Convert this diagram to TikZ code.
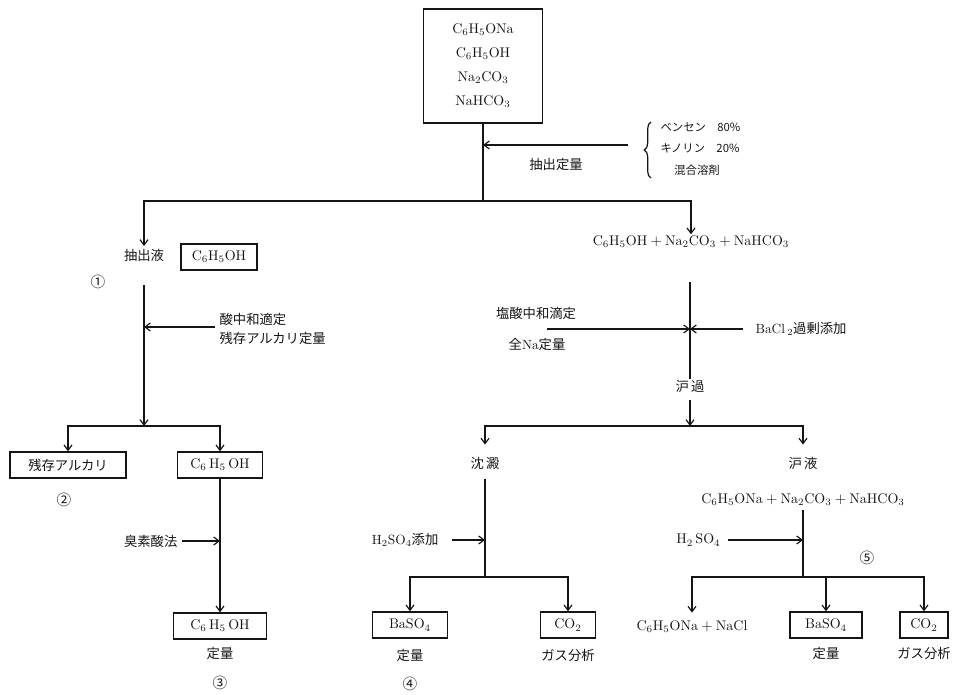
\documentclass[tikz,border=0pt]{standalone}
\usepackage{fontspec}
\usepackage{xcolor}
\usepackage{tikz}
\usetikzlibrary{arrows.meta,positioning,calc,decorations.pathreplacing}
\newfontfamily\jp{Noto Sans CJK JP}
\definecolor{sumi}{HTML}{151515}
\newcommand{\fml}[1]{\ensuremath{\mathrm{#1}}}

\begin{document}
\begin{tikzpicture}[x=0.75pt,y=-0.75pt,
    hako/.style={draw=sumi,line width=1.1pt,minimum height=19.5pt,inner sep=2pt,
                 font=\fontsize{10.5}{12}\selectfont\color{sumi}},
    moji/.style={font=\jp\fontsize{10}{14}\selectfont\color{sumi},inner sep=1pt},
    chico/.style={font=\jp\fontsize{8.5}{10}\selectfont\color{sumi},inner sep=1pt},
    kagaku/.style={font=\fontsize{10.5}{12}\selectfont\color{sumi},inner sep=1pt},
    maru/.style={font=\jp\fontsize{11}{12}\selectfont\color{sumi}},
    sen/.style={draw=sumi,line width=0.9pt},
    >={Straight Barb[length=4pt,width=6pt]}]
  \useasboundingbox (0,0) rectangle (954,695);

  % muestra de partida
  \node[hako,minimum width=89pt,minimum height=85.5pt,align=center,
        font=\fontsize{10.5}{18}\selectfont\color{sumi}] (mezcla) at (483,66)
    {\fml{C_6H_5ONa}\\ \fml{C_6H_5OH}\\ \fml{Na_2CO_3}\\ \fml{NaHCO_3}};
  \coordinate (junta1) at (483,145);
  \coordinate (solv) at (628,145);
  \coordinate (bif1) at (483,201);
  \draw[sen] (mezcla) -- (bif1);
  \draw[sen,->] (solv) -- (junta1);
  \node[moji] (extraer) at (556,164) {抽出定量};
  \draw[sen,decorate,decoration={brace,amplitude=5pt}] (651,178) -- (651,122);
  \node[chico,anchor=west] (benceno) at (659,127) {ベンセン\quad 80\%};
  \node[chico,anchor=west] (quinolina) at (659,148) {キノリン\quad 20\%};
  \node[chico] (solvente) at (697,170) {混合溶剤};

  % lado izquierdo: extracto
  \node[moji] (extracto) at (144,255) {抽出液};
  \node[hako,minimum width=57pt] (fenol1) at (219,257) {\fml{C_6H_5OH}};
  \node[maru] (n1) at (98,282) {①};
  \draw[sen,->] (bif1) -| ([yshift=1pt]extracto.north);
  \coordinate (l0) at (144,285);
  \coordinate (l1) at (144,327);
  \coordinate (acido) at (215,327);
  \coordinate (lbif) at (144,426);
  \draw[sen,->] (l0) -- (lbif);
  \draw[sen,->] (acido) -- (l1);
  \node[moji,anchor=west,align=left] (valora) at (218,329)
    {酸中和適定\\残存アルカリ定量};
  \node[hako,minimum width=87pt,font=\jp\fontsize{10}{12}\selectfont\color{sumi}]
    (alcali) at (68,465) {残存アルカリ};
  \node[hako,minimum width=64pt] (fenol2) at (220,465) {\fml{C_6\,H_5\,OH}};
  \draw[sen,->] (lbif) -| (alcali);
  \draw[sen,->] (lbif) -| (fenol2);
  \node[maru] (n2) at (64,500) {②};
  \coordinate (bromo) at (220,541);
  \coordinate (bromoa) at (182,541);
  \node[hako,minimum width=70pt] (fenol3) at (220,626) {\fml{C_6\,H_5\,OH}};
  \draw[sen,->] (fenol2) -- (fenol3);
  \draw[sen,->] (bromoa) -- (bromo);
  \node[moji,anchor=east] (bromato) at (179,541) {臭素酸法};
  \node[moji] (q3) at (220,653) {定量};
  \node[maru] (n3) at (220,683) {③};

  % lado derecho
  \node[kagaku] (mezcla2) at (691,242) {\fml{C_6H_5OH+Na_2CO_3+NaHCO_3}};
  \draw[sen,->] (bif1) -| (mezcla2.north);
  \coordinate (r0) at (690,282);
  \coordinate (r1) at (690,329);
  \coordinate (clh) at (547,329);
  \coordinate (bacl) at (743,329);
  \node[moji] (roka) at (690,387) {沪\,過};
  \draw[sen] (r0) -- (roka.north);
  \draw[sen,->] (clh) -- (r1);
  \draw[sen,->] (bacl) -- (r1);
  \node[moji] (clhtxt) at (536,313) {塩酸中和滴定};
  \node[moji] (natxt) at (537,344) {全\fml{Na}定量};
  \node[moji,anchor=west] (bacltxt) at (754,329) {\fml{BaCl\,_2}過剰添加};
  \coordinate (rbif) at (690,426);
  \draw[sen,->,shorten <=4pt] (roka) -- (rbif);
  \node[moji] (chinden) at (485,463) {沈\,澱};
  \node[moji] (roeki) at (803,463) {沪\,液};
  \draw[sen,->,shorten >=8pt] (rbif) -| (chinden.north);
  \draw[sen,->,shorten >=8pt] (rbif) -| (roeki.north);

  % precipitado
  \coordinate (m1) at (485,540);
  \coordinate (m0) at (452,540);
  \coordinate (mbif) at (485,577);
  \draw[sen,shorten <=6pt] (chinden) -- (mbif);
  \draw[sen,->] (m0) -- (m1);
  \node[moji,anchor=east] (h2a) at (440,540) {\fml{H_2SO_4}添加};
  \node[hako,minimum width=56pt] (baso4a) at (410,625) {\fml{BaSO_4}};
  \node[hako,minimum width=41pt] (co2a) at (568,625) {\fml{CO_2}};
  \draw[sen,->] (mbif) -| (baso4a);
  \draw[sen,->] (mbif) -| (co2a);
  \node[moji] (q4) at (410,655) {定量};
  \node[moji] (gas4) at (568,655) {ガス分析};
  \node[maru] (n4) at (410,684) {④};

  % filtrado
  \node[kagaku] (filtrado) at (803,500) {\fml{C_6H_5ONa+Na_2CO_3+NaHCO_3}};
  \coordinate (s1) at (803,540);
  \coordinate (s0) at (728,540);
  \coordinate (sbif) at (803,577);
  \draw[sen,shorten <=2pt] (filtrado) -- (sbif);
  \draw[sen,->] (s0) -- (s1);
  \node[kagaku,anchor=east] (h2b) at (722,540) {\fml{H_2\,SO_4}};
  \node[maru] (n5) at (867,558) {⑤};
  \node[kagaku] (fenolato) at (692,627) {\fml{C_6H_5ONa+NaCl}};
  \node[hako,minimum width=54pt] (baso4b) at (826,625) {\fml{BaSO_4}};
  \node[hako,minimum width=36pt] (co2b) at (924,625) {\fml{CO_2}};
  \draw[sen,->,shorten >=5pt] (sbif) -| (fenolato.north);
  \draw[sen,->] (sbif) -| (baso4b);
  \draw[sen,->] (sbif) -| (co2b);
  \node[moji] (q5) at (826,653) {定量};
  \node[moji] (gas5) at (924,653) {ガス分析};
\end{tikzpicture}
\end{document}
